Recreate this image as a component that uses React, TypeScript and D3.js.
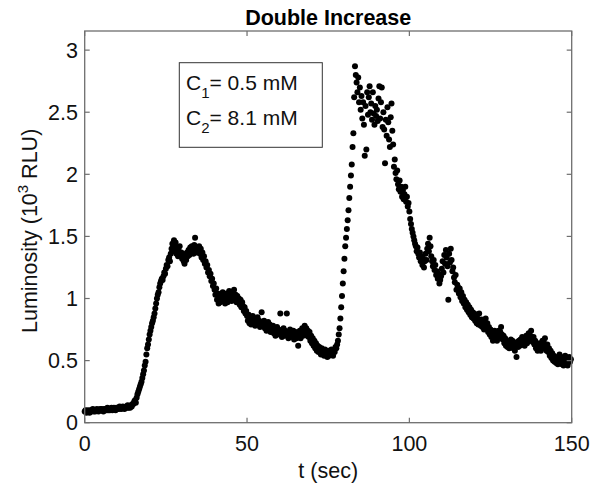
import React from "react";
import * as d3 from "d3";

// Sampling interval of the luminometer trace (sec)
const SAMPLE_INTERVAL = 0.25;

// Luminosity readings (10^3 RLU), one per sample, rows of 5 s
const LUMINOSITY: number[] = [
  0.09,0.10,0.08,0.09,0.10,0.09,0.08,0.10,0.09,0.10,0.11,0.09,0.10,0.09,0.10,0.11,0.10,0.09,0.10,0.11,
  0.10,0.11,0.10,0.09,0.11,0.10,0.11,0.10,0.12,0.10,0.11,0.10,0.11,0.12,0.10,0.11,0.12,0.11,0.10,0.12,
  0.11,0.12,0.11,0.13,0.12,0.11,0.12,0.13,0.12,0.11,0.12,0.13,0.12,0.14,0.12,0.13,0.12,0.14,0.13,0.15,
  0.15,0.17,0.18,0.16,0.20,0.23,0.25,0.27,0.29,0.31,0.33,0.36,0.39,0.42,0.46,0.49,0.55,0.60,0.63,0.67,
  0.71,0.74,0.77,0.80,0.82,0.85,0.88,0.92,0.96,1.00,1.03,1.05,1.09,1.12,1.14,1.16,1.15,1.18,1.21,1.20,
  1.24,1.27,1.26,1.31,1.33,1.30,1.36,1.40,1.44,1.38,1.47,1.42,1.45,1.36,1.40,1.34,1.38,1.42,1.35,1.37,
  1.32,1.36,1.30,1.28,1.33,1.31,1.37,1.34,1.39,1.35,1.41,1.37,1.42,1.38,1.36,1.43,1.49,1.40,1.37,1.41,
  1.38,1.42,1.36,1.40,1.33,1.37,1.31,1.34,1.28,1.30,1.25,1.27,1.21,1.23,1.18,1.20,1.14,1.16,1.10,1.12,
  1.07,1.03,1.08,0.99,1.04,0.96,1.01,0.97,1.03,0.99,1.05,0.98,1.02,0.96,1.00,1.04,0.97,1.01,1.06,0.99,
  1.03,0.98,1.05,1.01,1.07,0.99,1.03,0.97,1.02,0.98,1.00,0.95,0.99,0.93,0.97,0.94,0.90,0.93,0.88,0.90,
  0.86,0.82,0.87,0.80,0.84,0.79,0.83,0.86,0.81,0.84,0.78,0.83,0.80,0.85,0.79,0.82,0.77,0.81,0.89,0.80,
  0.78,0.82,0.76,0.80,0.74,0.78,0.81,0.75,0.79,0.73,0.77,0.74,0.78,0.72,0.76,0.70,0.74,0.77,0.71,0.75,
  0.72,0.88,0.74,0.69,0.73,0.76,0.70,0.74,0.71,0.88,0.73,0.68,0.72,0.75,0.69,0.73,0.70,0.74,0.67,0.71,
  0.73,0.68,0.71,0.62,0.70,0.74,0.68,0.72,0.76,0.70,0.74,0.78,0.72,0.76,0.70,0.74,0.69,0.73,0.66,0.70,
  0.64,0.68,0.62,0.66,0.60,0.64,0.58,0.62,0.57,0.61,0.59,0.55,0.60,0.56,0.58,0.54,0.59,0.55,0.57,0.53,
  0.58,0.54,0.57,0.55,0.59,0.56,0.54,0.58,0.57,0.61,0.60,0.63,0.66,0.71,0.76,0.84,0.93,1.02,1.12,1.22,
  1.32,1.42,1.49,1.56,1.63,1.71,1.81,1.90,1.99,2.08,2.22,2.33,2.62,2.87,2.80,2.74,2.66,2.78,2.58,2.70,
  2.52,2.63,2.45,2.58,2.40,2.15,2.55,2.20,2.66,2.48,2.62,2.71,2.50,2.57,2.44,2.66,2.49,2.40,2.55,2.47,
  2.52,2.43,2.61,2.71,2.45,2.58,2.70,2.38,2.50,2.36,2.09,2.44,2.31,2.54,2.42,2.28,2.22,2.46,2.57,2.35,
  2.24,2.06,2.12,2.01,1.96,2.03,1.92,1.88,1.95,1.86,1.90,1.82,1.87,1.80,1.84,1.90,1.78,1.82,1.74,1.77,
  1.70,1.64,1.60,1.56,1.53,1.50,1.47,1.44,1.42,1.38,1.41,1.36,1.33,1.37,1.30,1.34,1.27,1.32,1.25,1.30,
  1.36,1.31,1.40,1.44,1.38,1.49,1.42,1.34,1.30,1.26,1.31,1.23,1.27,1.19,1.22,1.16,1.20,1.12,1.15,1.18,
  1.24,1.30,1.21,1.35,1.28,1.39,1.33,1.26,0.99,1.36,1.29,1.40,1.31,1.22,1.25,1.17,1.13,1.19,1.07,1.11,
  1.09,1.04,1.08,1.01,1.05,0.98,1.02,0.96,0.99,0.93,0.97,0.91,0.95,0.89,0.93,0.87,0.91,0.85,0.89,0.84,
  0.88,0.82,0.86,0.80,0.84,0.79,0.88,0.82,0.78,0.83,0.77,0.81,0.75,0.79,0.84,0.76,0.80,0.73,0.77,0.71,
  0.75,0.69,0.72,0.66,0.70,0.74,0.68,0.72,0.66,0.70,0.74,0.69,0.73,0.77,0.71,0.67,0.70,0.64,0.68,0.62,
  0.66,0.61,0.65,0.60,0.64,0.67,0.62,0.66,0.60,0.64,0.58,0.63,0.53,0.65,0.61,0.66,0.62,0.67,0.63,0.69,
  0.64,0.68,0.62,0.66,0.70,0.64,0.68,0.72,0.66,0.70,0.74,0.68,0.65,0.69,0.63,0.66,0.60,0.64,0.58,0.62,
  0.60,0.64,0.58,0.62,0.66,0.60,0.64,0.68,0.62,0.58,0.63,0.57,0.60,0.54,0.58,0.52,0.56,0.50,0.54,0.49,
  0.53,0.48,0.52,0.47,0.51,0.55,0.49,0.53,0.47,0.51,0.46,0.50,0.54,0.48,0.52,0.46,0.50,0.53,0.49,0.51,
];

const X_DOMAIN = [0, 150];
const Y_DOMAIN = [0, 3.154];
const X_TICKS = [0, 50, 100, 150];
const Y_TICKS = [0, 0.5, 1, 1.5, 2, 2.5, 3];
const TITLE = "Double Increase";
const X_LABEL = "t (sec)";
const Y_LABEL_MAIN = "Luminosity (10";
const Y_LABEL_SUP = "3";
const Y_LABEL_END = " RLU)";
const LEGEND_SUBS = ["1", "2"];
const LEGEND_TEXTS = ["= 0.5 mM", "= 8.1 mM"];

const FONT = "'Liberation Sans', Arial, Helvetica, sans-serif";

export default function App() {
  const W = 593;
  const H = 490;
  const left = 84.7, right = 571.7, top = 31, bottom = 422.7;
  const x = d3.scaleLinear().domain(X_DOMAIN).range([left, right]);
  const y = d3.scaleLinear().domain(Y_DOMAIN).range([bottom, top]);
  const tickLen = 5;
  const axisColor = "#6e6e6e";
  const points = LUMINOSITY.map((v, i) => ({ t: i * SAMPLE_INTERVAL, v }));

  return (
    <div style={{ position: "absolute", left: 0, top: 0 }}>
      <svg width={W} height={H} style={{ display: "block", background: "#fff" }} fontFamily={FONT}>
        <rect x={0} y={0} width={W} height={H} fill="#fff" />
        {/* data */}
        <g>
          {points.map((p, i) => (
            <circle key={i} cx={x(p.t)} cy={y(p.v)} r={3} fill="#000" />
          ))}
        </g>
        {/* box */}
        <rect x={left} y={top} width={right - left} height={bottom - top} fill="none" stroke={axisColor} strokeWidth={1.3} />
        {/* x ticks */}
        {X_TICKS.map((t) => (
          <g key={"xt" + t}>
            <line x1={x(t)} x2={x(t)} y1={bottom} y2={bottom - tickLen} stroke={axisColor} strokeWidth={1.2} />
            <line x1={x(t)} x2={x(t)} y1={top} y2={top + tickLen} stroke={axisColor} strokeWidth={1.2} />
            <text x={x(t)} y={451} fontSize={21.5} textAnchor="middle" fill="#111">{t}</text>
          </g>
        ))}
        {Y_TICKS.map((v) => (
          <g key={"yt" + v}>
            <line x1={left} x2={left + tickLen} y1={y(v)} y2={y(v)} stroke={axisColor} strokeWidth={1.2} />
            <line x1={right} x2={right - tickLen} y1={y(v)} y2={y(v)} stroke={axisColor} strokeWidth={1.2} />
            <text x={78} y={y(v)} dy="0.36em" fontSize={21.5} textAnchor="end" fill="#111">{v}</text>
          </g>
        ))}
        {/* title */}
        <text x={(left + right) / 2} y={25} fontSize={21.5} fontWeight="bold" textAnchor="middle" fill="#000">{TITLE}</text>
        {/* x label */}
        <text x={(left + right) / 2} y={478} fontSize={21.5} textAnchor="middle" fill="#111">{X_LABEL}</text>
        {/* y label */}
        <text transform={`translate(37,${(top + bottom) / 2 + 4}) rotate(-90)`} fontSize={21.5} textAnchor="middle" fill="#111">
          {Y_LABEL_MAIN}
          <tspan fontSize={15} dy={-9}>{Y_LABEL_SUP}</tspan>
          <tspan dy={9}>{Y_LABEL_END}</tspan>
        </text>
        {/* legend */}
        <rect x={179.3} y={62.7} width={143} height={84.6} fill="#fff" stroke="#333" strokeWidth={1} />
        {LEGEND_TEXTS.map((txt, i) => (
          <text key={"lg" + i} x={186} y={90 + i * 35} fontSize={21} fill="#111">
            C
            <tspan fontSize={15} dy={8}>{LEGEND_SUBS[i]}</tspan>
            <tspan dy={-8}>{txt}</tspan>
          </text>
        ))}
      </svg>
    </div>
  );
}
